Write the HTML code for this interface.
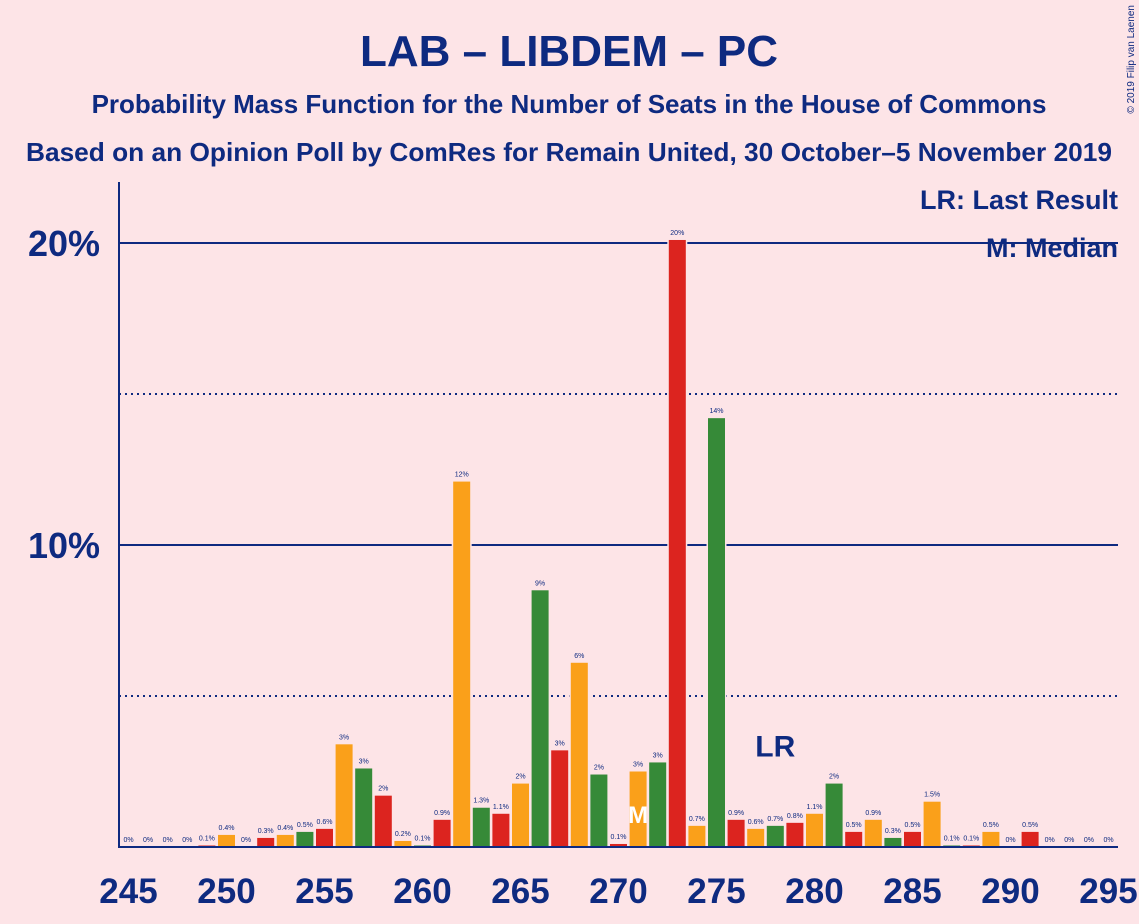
<!DOCTYPE html>
<html><head><meta charset="utf-8"><style>
body{margin:0;background:#fde4e7;font-family:"Liberation Sans",sans-serif;}
svg{display:block}
</style></head><body>
<svg id="c" width="1139" height="924" xmlns="http://www.w3.org/2000/svg">
<rect width="1139" height="924" fill="#fde4e7"/>
<text x="569" y="66" text-anchor="middle" font-size="44" font-weight="bold" fill="#0e2a80">LAB – LIBDEM – PC</text>
<text x="569" y="113" text-anchor="middle" font-size="26" font-weight="bold" fill="#0e2a80">Probability Mass Function for the Number of Seats in the House of Commons</text>
<text x="569" y="161" text-anchor="middle" font-size="26" font-weight="bold" fill="#0e2a80" textLength="1086" lengthAdjust="spacingAndGlyphs">Based on an Opinion Poll by ComRes for Remain United, 30 October–5 November 2019</text>
<text x="1134" y="5" transform="rotate(-90 1134 5)" text-anchor="end" font-size="10" fill="#0e2a80">© 2019 Filip van Laenen</text>
<text x="1118" y="209" text-anchor="end" font-size="27" font-weight="bold" fill="#0e2a80">LR: Last Result</text>
<text x="1118" y="257" text-anchor="end" font-size="27" font-weight="bold" fill="#0e2a80">M: Median</text>
<g id="grid"></g><g id="bars"></g><g id="axes"></g>
</svg>
<script>
const seats=[245,246,247,248,249,250,251,252,253,254,255,256,257,258,259,260,261,262,263,264,265,266,267,268,269,270,271,272,273,274,275,276,277,278,279,280,281,282,283,284,285,286,287,288,289,290,291,292,293,294,295];
const probs=[0,0,0,0,0.05,0.4,0,0.3,0.4,0.5,0.6,3.4,2.6,1.7,0.2,0.05,0.9,12.1,1.3,1.1,2.1,8.5,3.2,6.1,2.4,0.1,2.5,2.8,20.1,0.7,14.2,0.9,0.6,0.7,0.8,1.1,2.1,0.5,0.9,0.3,0.5,1.5,0.05,0.05,0.5,0,0.5,0,0,0,0];
const labels=["0%","0%","0%","0%","0.1%","0.4%","0%","0.3%","0.4%","0.5%","0.6%","3%","3%","2%","0.2%","0.1%","0.9%","12%","1.3%","1.1%","2%","9%","3%","6%","2%","0.1%","3%","3%","20%","0.7%","14%","0.9%","0.6%","0.7%","0.8%","1.1%","2%","0.5%","0.9%","0.3%","0.5%","1.5%","0.1%","0.1%","0.5%","0%","0.5%","0%","0%","0%","0%"];
const xTicks=[245,250,255,260,265,270,275,280,285,290,295];
const solidY=[10,20], dottedY=[5,15];
const yLabels=[10,20];
const lastResult=278, median=271;
const NS="http://www.w3.org/2000/svg";
const x=s=>128.5+(s-245)*19.6;
const y=v=>847-v*30.2;
const colors=["#dc241f","#faa01a","#368a38"];
function mk(t,a,p){const e=document.createElementNS(NS,t);for(const k in a)e.setAttribute(k,a[k]);p.appendChild(e);return e;}
const grid=document.getElementById('grid'),bars=document.getElementById('bars'),axes=document.getElementById('axes');
solidY.forEach(v=>{const l=mk('line',{x1:119,x2:1118,y1:y(v),y2:y(v),stroke:'#0e2a80','stroke-width':2},grid);

});
dottedY.forEach(v=>{const l=mk('line',{x1:119,x2:1118,y1:y(v),y2:y(v),stroke:'#0e2a80','stroke-width':2,'stroke-dasharray':'2,4'},grid);

});
yLabels.forEach(v=>{const t=mk('text',{x:100,y:y(v)+13,'text-anchor':'end','font-size':36,'font-weight':'bold',fill:'#0e2a80'},axes);t.textContent=v+'%';

});
seats.forEach((s,i)=>{
 const c=colors[(((s-252)%3)+3)%3];
 const h=probs[i]*30.2;
 if(h>0){
 const b=mk('rect',{x:x(s)-8.5,y:847-h,width:17,height:h,fill:c,stroke:'#fde4e7','stroke-width':3,'paint-order':'stroke'},bars);
 
 }
 const t=mk('text',{x:x(s),y:847-h-5,'text-anchor':'middle','font-size':7,fill:'#0e2a80'},bars);t.textContent=labels[i];
 
 
});
const m=mk('text',{x:x(median),y:y(0.8),'text-anchor':'middle','font-size':24,'font-weight':'bold',fill:'#ffffff'},bars);m.textContent='M';


const lr=mk('text',{x:x(lastResult),y:y(3),'text-anchor':'middle','font-size':30,'font-weight':'bold',fill:'#0e2a80'},bars);lr.textContent='LR';


const ya=mk('line',{x1:119,x2:119,y1:182,y2:848,stroke:'#0e2a80','stroke-width':2},axes);


const xa=mk('line',{x1:118,x2:1118,y1:847,y2:847,stroke:'#0e2a80','stroke-width':2},axes);


xTicks.forEach(s=>{const t=mk('text',{x:x(s),y:903,'text-anchor':'middle','font-size':35,'font-weight':'bold',fill:'#0e2a80'},axes);t.textContent=s;

});
</script>
</body></html>
